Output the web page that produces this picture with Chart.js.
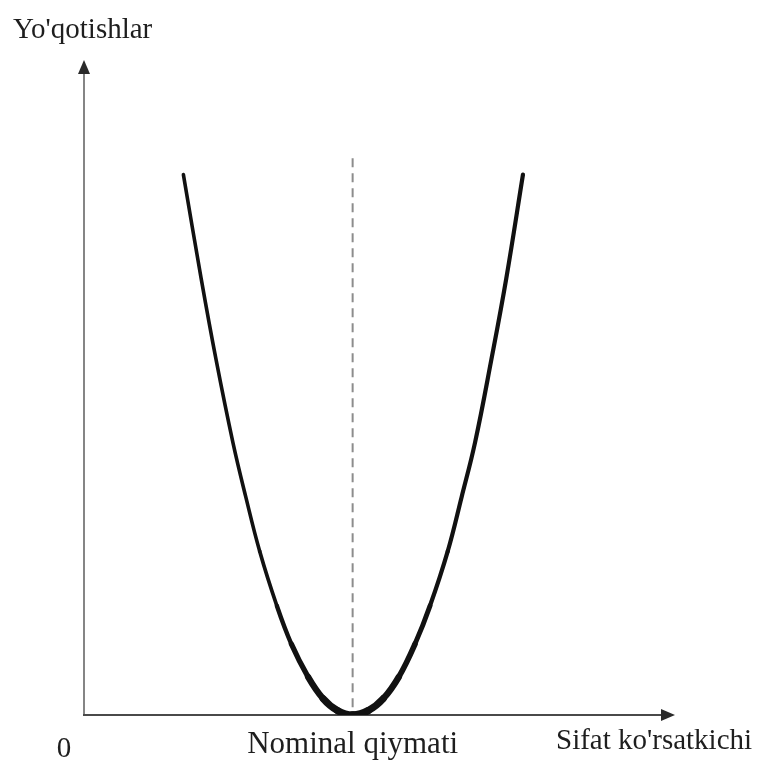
<!DOCTYPE html>
<html>
<head>
<meta charset="utf-8">
<title>Yo'qotishlar funksiyasi</title>
<script src="https://cdn.jsdelivr.net/npm/chart.js@4"></script>
<style>
  html, body { margin: 0; padding: 0; background: #fff; }
  #wrap { width: 763px; height: 762px; }
</style>
</head>
<body>
<div id="wrap"><canvas id="lossChart" width="763" height="762"></canvas></div>
<script>
// Loss curve points (quality value -> loss)
const qualityValues = [1.85, 2.18, 2.46, 2.77, 3.01, 3.27, 3.59, 3.86, 4.17, 4.45, 4.72, 5.0,
                       5.29, 5.57, 5.86, 6.16, 6.44, 6.77, 7.03, 7.28, 7.58, 7.86, 8.17];
const lossValues = [9.9, 8.0, 6.5, 5.0, 4.0, 3.0, 2.0, 1.3, 0.7, 0.3, 0.08, 0,
                    0.08, 0.3, 0.7, 1.3, 2.0, 3.0, 4.0, 5.0, 6.5, 8.0, 9.9];

// Nominal value marker
const nominalValue = 5;
const nominalTop = 10.2;

// Axis texts
const xAxisTitle = "Sifat ko'rsatkichi";
const yAxisTitle = "Yo'qotishlar";
const nominalLabel = 'Nominal qiymati';
const originLabel = '0';

const serif = '"Liberation Serif", "Times New Roman", serif';

// Arrowed axes and the labels around them
const axesPlugin = {
    id: 'axesPlugin',
    beforeDatasetsDraw(chart) {
        const { ctx, chartArea } = chart;
        const left = chartArea.left, bottom = chartArea.bottom;
        ctx.save();

        // y axis
        ctx.strokeStyle = '#858585';
        ctx.lineWidth = 2;
        ctx.beginPath();
        ctx.moveTo(left, bottom);
        ctx.lineTo(left, chartArea.top + 12);
        ctx.stroke();
        ctx.fillStyle = '#2a2a2a';
        ctx.beginPath();
        ctx.moveTo(left, chartArea.top);
        ctx.lineTo(left - 6, chartArea.top + 14);
        ctx.lineTo(left + 6, chartArea.top + 14);
        ctx.closePath();
        ctx.fill();

        // x axis
        ctx.strokeStyle = '#4a4a4a';
        ctx.beginPath();
        ctx.moveTo(left - 1, bottom);
        ctx.lineTo(chartArea.right - 12, bottom);
        ctx.stroke();
        ctx.beginPath();
        ctx.moveTo(chartArea.right, bottom);
        ctx.lineTo(chartArea.right - 14, bottom - 6);
        ctx.lineTo(chartArea.right - 14, bottom + 6);
        ctx.closePath();
        ctx.fill();
        ctx.restore();
    },
    afterDraw(chart) {
        const { ctx, chartArea, scales } = chart;
        ctx.save();
        ctx.fillStyle = '#1e1e1e';
        ctx.textBaseline = 'alphabetic';

        ctx.font = '29px ' + serif;
        ctx.textAlign = 'left';
        ctx.fillText(yAxisTitle, 13, 38);

        ctx.textAlign = 'center';
        ctx.fillText(originLabel, chartArea.left - 20, chartArea.bottom + 42);

        ctx.font = '31px ' + serif;
        ctx.fillText(nominalLabel, scales.x.getPixelForValue(nominalValue), chartArea.bottom + 38);

        ctx.font = '29px ' + serif;
        ctx.textAlign = 'left';
        ctx.fillText(xAxisTitle, 556, chartArea.bottom + 34);
        ctx.restore();
    }
};

// Stroke gets heavier towards the bottom of the curve
function curveWidth(seg) {
    const y = (seg.p0.parsed.y + seg.p1.parsed.y) / 2;
    const right = seg.p0.parsed.x >= nominalValue ? 0.6 : 0;
    const heavy = Math.pow(Math.max(0, 1 - y / 3), 2);
    return 3.6 + right * Math.min(1, y / 2) + 3.9 * heavy;
}

const ctx = document.getElementById('lossChart').getContext('2d');

new Chart(ctx, {
    type: 'scatter',
    data: {
        datasets: [
            {
                label: yAxisTitle,
                data: qualityValues.map((x, i) => ({ x: x, y: lossValues[i] })),
                showLine: true,
                borderColor: '#111',
                borderWidth: 3.6,
                borderCapStyle: 'round',
                borderJoinStyle: 'round',
                tension: 0.4,
                pointRadius: 0,
                segment: { borderWidth: curveWidth },
                order: 0
            },
            {
                label: nominalLabel,
                data: [{ x: nominalValue, y: nominalTop }, { x: nominalValue, y: 0 }],
                showLine: true,
                borderColor: '#8c8c8c',
                borderWidth: 2,
                borderDash: [9, 6],
                pointRadius: 0,
                order: 1
            }
        ]
    },
    options: {
        responsive: false,
        animation: false,
        layout: { padding: { left: 84, right: 88, top: 60, bottom: 47 } },
        plugins: {
            legend: { display: false },
            tooltip: { enabled: false }
        },
        scales: {
            x: { type: 'linear', min: 0, max: 11, display: false },
            y: { type: 'linear', min: 0, max: 12, display: false }
        }
    },
    plugins: [axesPlugin]
});
</script>
</body>
</html>
